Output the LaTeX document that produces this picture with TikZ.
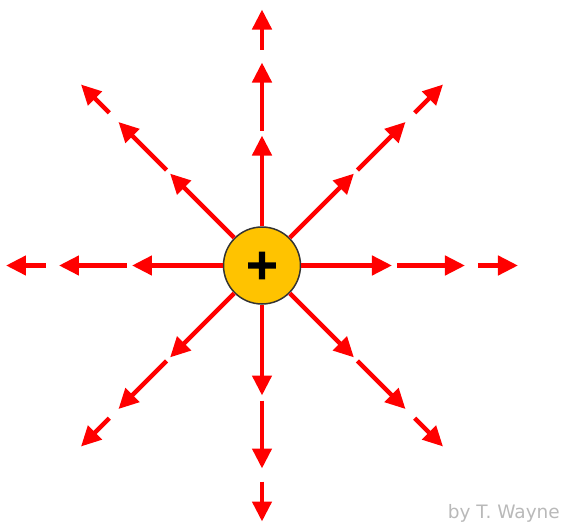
\documentclass[tikz,border=0pt]{standalone}
\usepackage{fontspec}
\usetikzlibrary{arrows.meta}
\newfontfamily\labelfont{DejaVu Sans}
\newfontfamily\signfont[FakeBold=3]{DejaVu Sans Bold}
\definecolor{fieldred}{RGB}{255,0,0}
\definecolor{chargegold}{RGB}{255,195,0}
\definecolor{creditgray}{RGB}{185,185,185}
\begin{document}
\begin{tikzpicture}[x=1pt,y=1pt,
    fieldline/.style={draw=fieldred,line width=4.5pt,-{Triangle[length=20pt,width=19pt]}},
    charge/.style={circle,draw=black!80,line width=1.5pt,fill=chargegold,minimum size=77pt,inner sep=0pt}]
  \useasboundingbox (-262,-257.5) rectangle (301,265.5);
  % point charge
  \node[charge,font=\signfont\fontsize{42}{42}\selectfont] (q) at (0,0) {+};
  % field lines, three pieces in each direction
  \foreach \a in {0,45,...,315} {
    \coordinate (e1-\a) at (\a:130);
    \coordinate (b2-\a) at (\a:135);
    \coordinate (e2-\a) at (\a:203);
    \coordinate (b3-\a) at (\a:216);
    \coordinate (e3-\a) at (\a:256);
    \draw[fieldline] (q.\a) -- (e1-\a);
    \draw[fieldline] (b2-\a) -- (e2-\a);
    \draw[fieldline] (b3-\a) -- (e3-\a);
  }
  \node[creditgray,font=\labelfont\fontsize{18.5}{18.5}\selectfont,anchor=base east,inner sep=0pt] (credit) at (298,-252.5) {by T. Wayne};
\end{tikzpicture}
\end{document}
